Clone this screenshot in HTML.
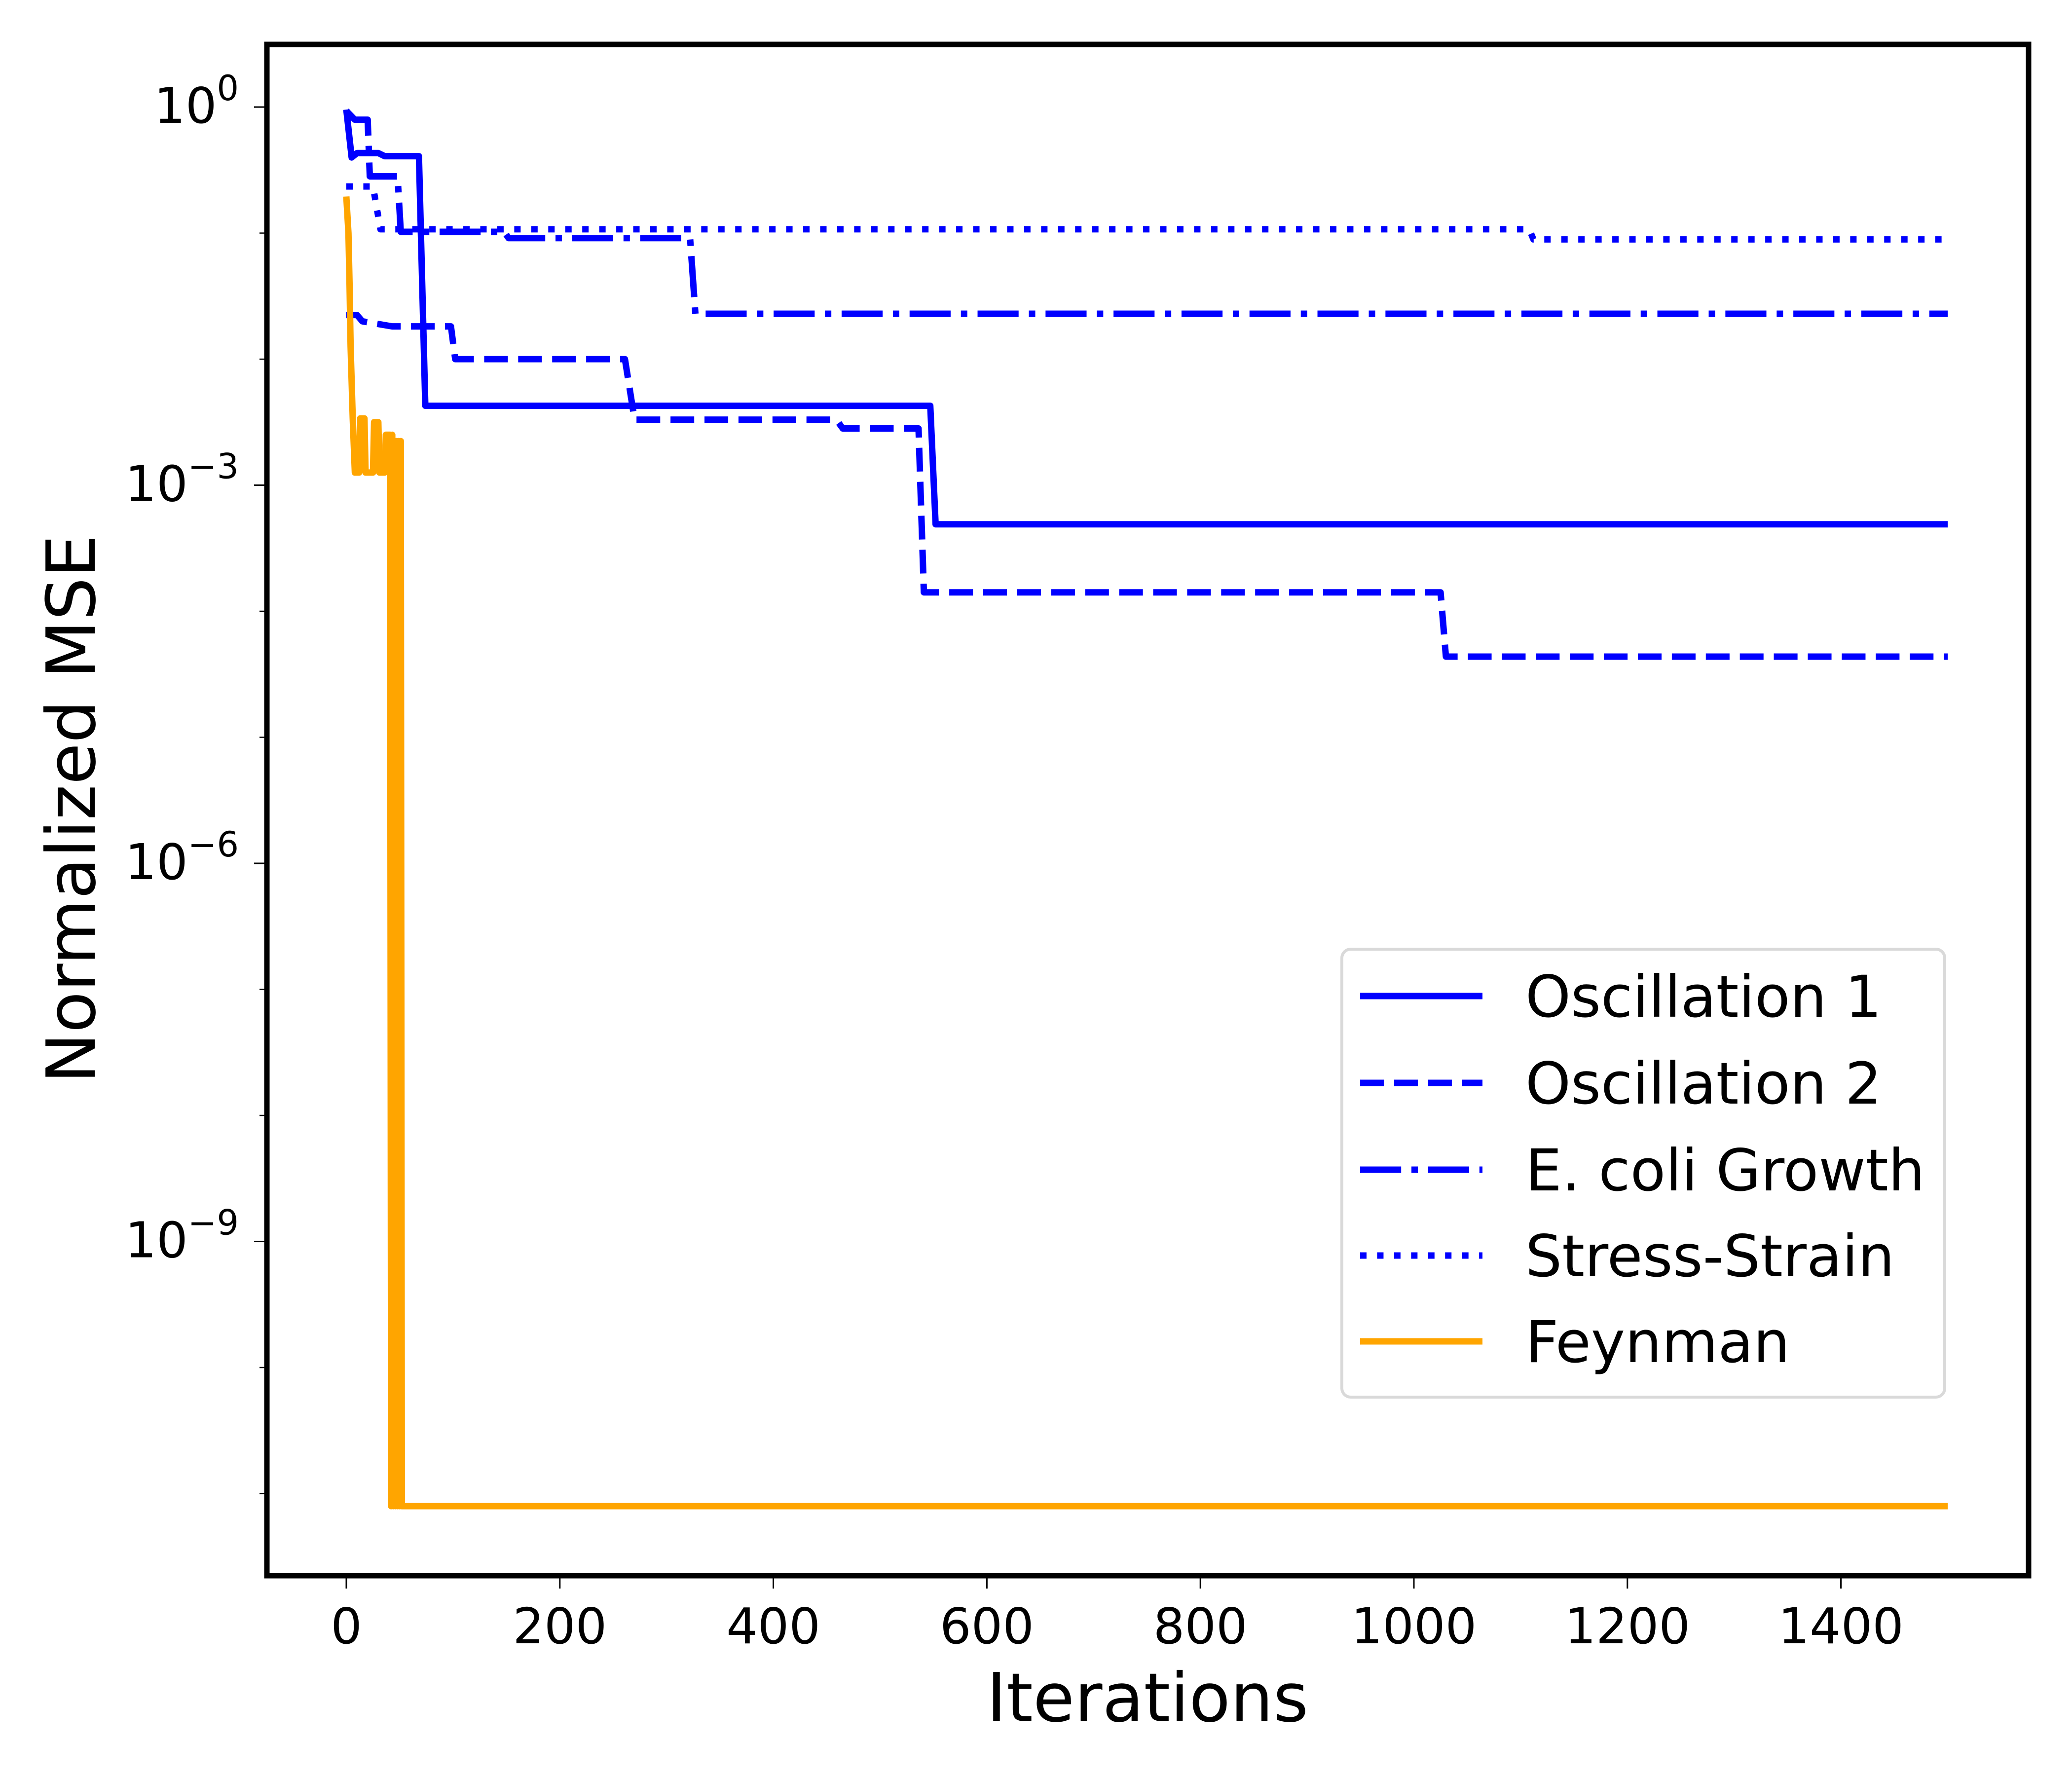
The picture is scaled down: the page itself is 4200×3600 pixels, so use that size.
<!DOCTYPE html>
<html><head><meta charset="utf-8"><style>
html,body{margin:0;padding:0;background:#fff;}
svg{display:block;font-family:"DejaVu Sans","Liberation Sans",sans-serif;}
</style></head><body>
<svg id="chart" width="4200" height="3600" viewBox="0 0 4200 3600" xmlns="http://www.w3.org/2000/svg">
<rect width="4200" height="3600" fill="#fff"/>
<g id="plot"></g>
<g id="axes"></g>
<text x="2326" y="3489" font-size="137" text-anchor="middle">Iterations</text>
<text transform="translate(192,1640) rotate(-90)" font-size="137" text-anchor="middle">Normalized MSE</text>
<g id="legend"></g>
</svg>
<script>
const xTicks = [0,200,400,600,800,1000,1200,1400];
const yMajor = [0,-3,-6,-9];
const yMinor = [-1,-2,-4,-5,-7,-8,-10,-11];
const seriesNames = ["Oscillation 1","Oscillation 2","E. coli Growth","Stress-Strain","Feynman"];
// [iteration, log10(MSE)]
const osc1 = [[0,-0.02],[5,-0.40],[10,-0.365],[30,-0.365],[36,-0.39],[68,-0.39],[74,-2.37],[547,-2.37],[552,-3.31],[1500,-3.31]];
const osc2 = [[0,-1.65],[10,-1.65],[15,-1.70],[43,-1.74],[98,-1.74],[102,-2.0],[261,-2.0],[270,-2.48],[459,-2.48],[465,-2.55],[536,-2.55],[541,-3.85],[1025,-3.85],[1030,-4.36],[1500,-4.36]];
const ecoli = [[0,-0.03],[8,-0.10],[20,-0.10],[22,-0.55],[48,-0.55],[51,-0.99],[148,-0.99],[152,-1.04],[322,-1.04],[327,-1.64],[1500,-1.64]];
const stress = [[0,-0.63],[25,-0.63],[32,-0.97],[1108,-0.97],[1112,-1.05],[1500,-1.05]];
const feyn = [[0,-0.71],[2,-1.0],[3,-1.4],[4,-1.9],[6,-2.47],[8,-2.9],[12,-2.9],[13,-2.47],[17,-2.47],[18,-2.9],[25,-2.9],[26,-2.5],[30,-2.5],[31,-2.9],[36,-2.9],[37,-2.6],[41,-2.6],[42,-11.1],[43,-2.6],[44,-11.1],[45,-2.65],[46,-11.1],[47,-2.65],[48,-11.1],[49,-2.65],[50,-11.1],[51,-2.65],[52,-11.1],[1500,-11.1]];

const NS="http://www.w3.org/2000/svg";
const L=541,R=4112,T=90,B=3194;
function sx(v){return 702+2.164*v;}
function sy(lg){return 217-255.5*lg;}
function mk(tag,attrs,parent){const e=document.createElementNS(NS,tag);for(const k in attrs)e.setAttribute(k,attrs[k]);parent.appendChild(e);return e;}
const plot=document.getElementById('plot');
const axes=document.getElementById('axes');
const legend=document.getElementById('legend');
const lw=13;
const styles=[
 {c:"#0000ff",d:""},
 {c:"#0000ff",d:(3.7*lw)+","+(1.6*lw)},
 {c:"#0000ff",d:(6.4*lw)+","+(1.6*lw)+","+(1*lw)+","+(1.6*lw)},
 {c:"#0000ff",d:(1*lw)+","+(1.65*lw)},
 {c:"#ffa500",d:""}
];
const data=[osc1,osc2,ecoli,stress,feyn];
const ids=['line-oscillation-1','line-oscillation-2','line-ecoli-growth','line-stress-strain','line-feynman'];
mk('clipPath',{id:'clip'},plot);
mk('rect',{x:L,y:T,width:R-L,height:B-T},document.getElementById('clip'));
data.forEach((s,i)=>{
  const d=s.map((p,j)=>(j?'L':'M')+sx(p[0]).toFixed(1)+' '+sy(p[1]).toFixed(1)).join(' ');
  const p=mk('path',{d:d,fill:'none',stroke:styles[i].c,'stroke-width':lw,'stroke-linejoin':'round','clip-path':'url(#clip)'},plot);
  if(styles[i].d)p.setAttribute('stroke-dasharray',styles[i].d);
  
  
});
const sp=mk('rect',{x:L,y:T,width:R-L,height:B-T,fill:'none',stroke:'#000','stroke-width':11},axes);


xTicks.forEach(v=>{
  const t=mk('line',{x1:sx(v),x2:sx(v),y1:B,y2:B+26,stroke:'#000','stroke-width':3},axes);
  
  
  const tx=mk('text',{x:sx(v),y:3331,'font-size':100,'text-anchor':'middle'},axes);
  tx.textContent=v;
  
  
});
yMajor.forEach(v=>{
  const y=sy(v);
  const t=mk('line',{x1:L-26,x2:L,y1:y,y2:y,stroke:'#000','stroke-width':3},axes);
  
  
  const tx=mk('text',{x:484,y:y+32,'font-size':100,'text-anchor':'end'},axes);
  
  
  const a=mk('tspan',{},tx);a.textContent='10';
  const b=mk('tspan',{dy:-46,'font-size':70},tx);b.textContent=(v===0?'0':'\u2212'+(-v));
});
yMinor.forEach(v=>{
  const y=sy(v);
  const t=mk('line',{x1:L-15,x2:L,y1:y,y2:y,stroke:'#000','stroke-width':2.5},axes);
  
  
});
const lb=mk('rect',{x:2720,y:1924,width:1222,height:908,rx:18,fill:'#fff','fill-opacity':0.8,stroke:'#d9d9d9','stroke-width':6},legend);


const baselines=[2061,2237,2413,2587,2761];
seriesNames.forEach((n,i)=>{
  const g=mk('g',{},legend);
  
  
  const y=baselines[i]-42;
  const h=mk('line',{x1:2757,x2:3005,y1:y,y2:y,stroke:styles[i].c,'stroke-width':lw},g);
  if(styles[i].d)h.setAttribute('stroke-dasharray',styles[i].d);
  const t=mk('text',{x:3092,y:baselines[i],'font-size':117},g);
  t.textContent=n;
});
</script>
</body></html>
